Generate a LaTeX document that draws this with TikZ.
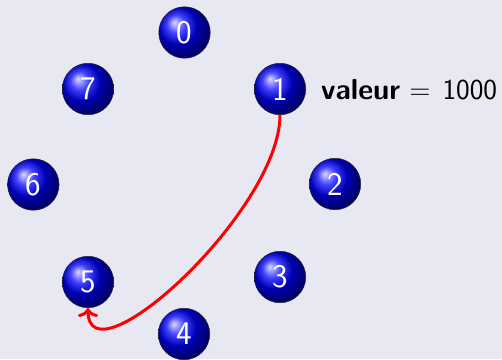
\documentclass[tikz,border=0pt]{standalone}
\usepackage{fontspec}
\usepackage{tikz}
\usetikzlibrary{arrows.meta}
\definecolor{bg}{RGB}{232,232,242}
\definecolor{arrred}{RGB}{255,0,0}
\begin{document}
\begin{tikzpicture}[x=1pt,y=-1pt,
  ball/.style={circle,minimum size=51.5pt,inner sep=0pt,shading=ball,ball color=blue,draw=black!85,line width=0.5pt,text=white,font=\fontsize{33}{33}\selectfont\sffamily},
  lbl/.style={font=\fontsize{29}{29}\selectfont\sffamily,anchor=base west,inner sep=0pt}]
\fill[bg] (0,0) rectangle (502,359);
\useasboundingbox (0,0) rectangle (502,359);
\node[ball] (n0) at (184.5,32.5) {0};
\node[ball] (n1) at (280,89) {1};
\node[ball] (n2) at (335,184) {2};
\node[ball] (n3) at (280,277) {3};
\node[ball] (n4) at (184,334) {4};
\node[ball] (n5) at (88,282) {5};
\node[ball] (n6) at (33.3,184.5) {6};
\node[ball] (n7) at (88,89) {7};
\node[lbl] (v) at (321,99) {\textbf{valeur} = \kern3pt 1000};
\draw[arrred,line width=3pt,-{To[length=9pt,width=20pt]}] (n1.south) .. controls +(0,96) and +(0,78) .. (n5.south);
\end{tikzpicture}
\end{document}
